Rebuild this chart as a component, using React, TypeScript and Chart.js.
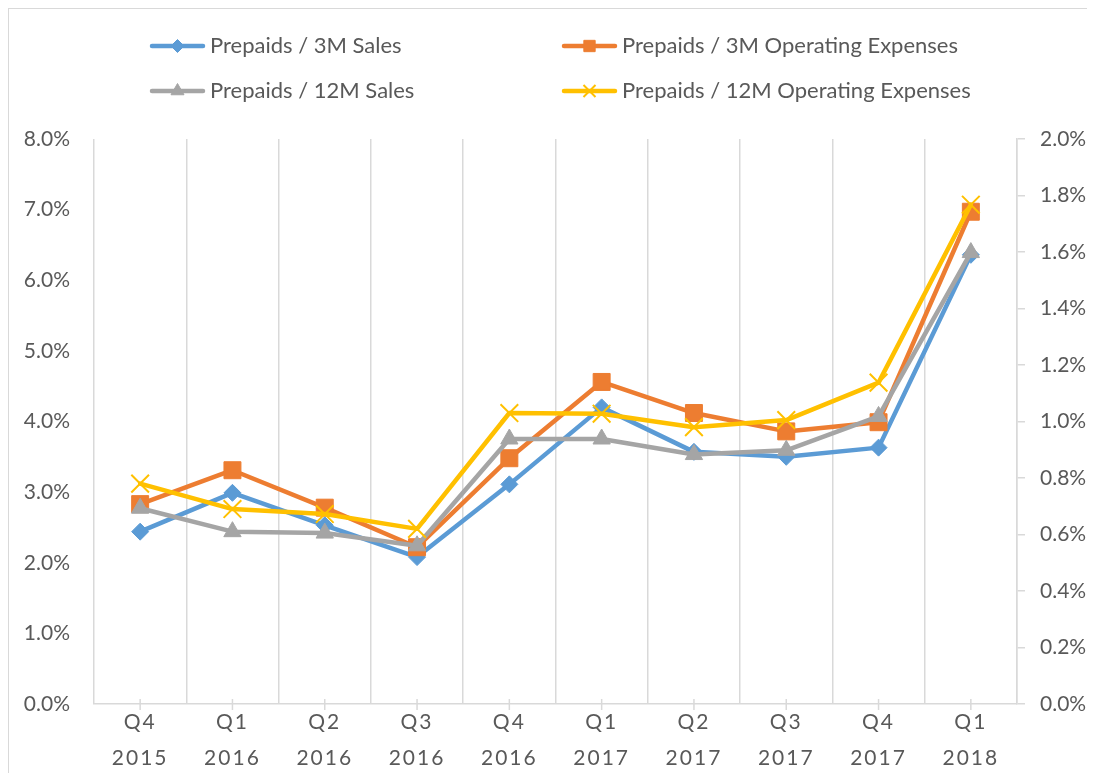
import React, { useEffect, useRef } from 'react';
import { Chart, registerables } from 'chart.js';
import { drawPoint } from 'chart.js/helpers';

Chart.register(...registerables);

// ---- data ----
const quarters = ['Q4', 'Q1', 'Q2', 'Q3', 'Q4', 'Q1', 'Q2', 'Q3', 'Q4', 'Q1'];
const years = ['2015', '2016', '2016', '2016', '2016', '2017', '2017', '2017', '2017', '2018'];

const seriesNames = [
  'Prepaids / 3M Sales',
  'Prepaids / 3M Operating Expenses',
  'Prepaids / 12M Sales',
  'Prepaids / 12M Operating Expenses',
];

// left axis (%)
const sales3M = [2.44, 2.99, 2.53, 2.08, 3.11, 4.2, 3.57, 3.5, 3.63, 6.36];
const opex3M = [2.83, 3.31, 2.78, 2.22, 3.48, 4.56, 4.12, 3.86, 3.99, 6.97];
// right axis (%)
const sales12M = [0.693, 0.61, 0.605, 0.56, 0.938, 0.938, 0.883, 0.898, 1.018, 1.598];
const opex12M = [0.78, 0.69, 0.6725, 0.62, 1.03, 1.0275, 0.98, 1.005, 1.1375, 1.7675];

const leftAxisMax = 8;
const leftAxisStep = 1;
const rightAxisMax = 2;
const rightAxisStep = 0.2;

// ---- styles ----
const FONT = 'Lato, "Noto Sans", sans-serif';
const TEXT = '#595959';
const GRID = '#d9d9d9';
const COLORS = ['#5B9BD5', '#ED7D31', '#A5A5A5', '#FFC000'];
const STYLES = ['rectRot', 'rect', 'triangle', 'crossRot'];
const RADII = [8.5, 12, 10, 12.5];
const LEGEND_RADII = [6.5, 8, 7.5, 8.5];

const CANVAS_W = 1078;
const CANVAS_H = 764;

const letterSpacingPlugin = {
  id: 'xLetterSpacing',
  beforeDraw(chart: any) {
    const s: any = chart.scales.x;
    if (!s || s.__patched) return;
    const orig = s.drawLabels;
    s.drawLabels = function (area: any) {
      const ctx: any = this.ctx;
      const prev = ctx.letterSpacing;
      ctx.letterSpacing = '2px';
      orig.call(this, area);
      ctx.letterSpacing = prev || '0px';
    };
    s.__patched = true;
  },
};

const centerTicksPlugin = {
  id: 'centerTicks',
  beforeDatasetsDraw(chart: any) {
    const s = chart.scales.x;
    const ctx = chart.ctx;
    const y = chart.chartArea.bottom;
    ctx.save();
    ctx.strokeStyle = GRID;
    ctx.lineWidth = 1.5;
    for (let i = 0; i < quarters.length; i++) {
      const x = s.getPixelForValue(i);
      ctx.beginPath();
      ctx.moveTo(x, y - 5);
      ctx.lineTo(x, y + 6);
      ctx.stroke();
    }
    ctx.restore();
  },
};

const LEGEND_COL_X = [141, 553];
const LEGEND_ROW_Y = [37, 82];
const LEGEND_LINE_W = 55;

const gridLegendPlugin = {
  id: 'gridLegend',
  afterDraw(chart: any) {
    const ctx = chart.ctx;
    ctx.save();
    chart.data.datasets.forEach((ds: any, i: number) => {
      const x0 = LEGEND_COL_X[i % 2];
      const y = LEGEND_ROW_Y[Math.floor(i / 2)];
      ctx.strokeStyle = ds.borderColor;
      ctx.lineWidth = 4.5;
      ctx.lineCap = 'round';
      ctx.beginPath();
      ctx.moveTo(x0 + 2, y);
      ctx.lineTo(x0 + LEGEND_LINE_W - 2, y);
      ctx.stroke();
      ctx.fillStyle = ds.pointBackgroundColor;
      ctx.strokeStyle = ds.pointBorderColor;
      ctx.lineWidth = ds.pointBorderWidth;
      ctx.lineCap = 'butt';
      drawPoint(
        ctx,
        { pointStyle: ds.pointStyle, radius: LEGEND_RADII[i], rotation: 0, borderWidth: ds.pointBorderWidth } as any,
        x0 + LEGEND_LINE_W / 2,
        y
      );
      ctx.fillStyle = TEXT;
      ctx.font = `22px ${FONT}`;
      ctx.textBaseline = 'middle';
      ctx.textAlign = 'left';
      ctx.fillText(ds.label, x0 + LEGEND_LINE_W + 5, y);
    });
    ctx.restore();
  },
};

export default function App() {
  const ref = useRef<HTMLCanvasElement | null>(null);

  useEffect(() => {
    if (!ref.current) return;
    const values = [sales3M, opex3M, sales12M, opex12M];
    const axes = ['y', 'y', 'y1', 'y1'];
    const datasets = values.map((data, i) => ({
      label: seriesNames[i],
      data,
      yAxisID: axes[i],
      borderColor: COLORS[i],
      backgroundColor: COLORS[i],
      borderWidth: 4.5,
      borderJoinStyle: 'round' as const,
      borderCapStyle: 'round' as const,
      tension: 0,
      pointStyle: STYLES[i],
      pointRadius: RADII[i],
      pointHoverRadius: RADII[i],
      pointBackgroundColor: COLORS[i],
      pointBorderColor: COLORS[i],
      pointBorderWidth: i === 3 ? 2 : 1,
      order: 4 - i,
      fill: false,
    }));

    const chart = new Chart(ref.current, {
      type: 'line',
      data: {
        labels: quarters.map((q, i) => [q, years[i]]),
        datasets: datasets as any,
      },
      plugins: [letterSpacingPlugin, centerTicksPlugin, gridLegendPlugin],
      options: {
        animation: false,
        responsive: false,
        maintainAspectRatio: false,
        layout: { padding: { top: 130, left: 0, right: 0, bottom: 0 } },
        plugins: {
          legend: { display: false },
          tooltip: { enabled: false },
        },
        scales: {
          x: {
            type: 'category',
            offset: true,
            grid: { offset: true, color: GRID, lineWidth: 1.5, drawTicks: false },
            border: { display: true, color: GRID, width: 1.5 },
            ticks: {
              color: TEXT,
              font: { family: FONT, size: 21, lineHeight: '36px' as any },
              padding: 0,
              maxRotation: 0,
              autoSkip: false,
            },
            afterFit: (s: any) => {
              s.height = 69;
            },
          },
          y: {
            type: 'linear',
            position: 'left',
            min: 0,
            max: leftAxisMax,
            grid: { display: false, drawTicks: false },
            border: { display: false },
            ticks: {
              stepSize: leftAxisStep,
              color: TEXT,
              font: { family: FONT, size: 21 },
              padding: 24,
              callback: (v: any) => Number(v).toFixed(1) + '%',
            },
            afterFit: (s: any) => {
              s.width = 85;
            },
          },
          y1: {
            type: 'linear',
            position: 'right',
            min: 0,
            max: rightAxisMax,
            grid: { drawOnChartArea: false, drawTicks: true, tickLength: 8, color: GRID, lineWidth: 1.5 },
            border: { display: true, color: GRID, width: 1.5 },
            ticks: {
              stepSize: rightAxisStep,
              color: TEXT,
              font: { family: FONT, size: 21 },
              padding: 15,
              callback: (v: any) => Number(v).toFixed(1) + '%',
            },
            afterFit: (s: any) => {
              s.width = CANVAS_W - 1008;
            },
          },
        },
      } as any,
    });
    return () => chart.destroy();
  }, []);

  return (
    <div
      style={{
        width: CANVAS_W + 1,
        height: CANVAS_H + 1,
        borderLeft: `1px solid ${GRID}`,
        borderTop: `1px solid ${GRID}`,
        boxSizing: 'border-box',
        background: '#fff',
        overflow: 'hidden',
      }}
    >
      <canvas ref={ref} width={CANVAS_W} height={CANVAS_H} style={{ display: 'block' }} />
    </div>
  );
}
